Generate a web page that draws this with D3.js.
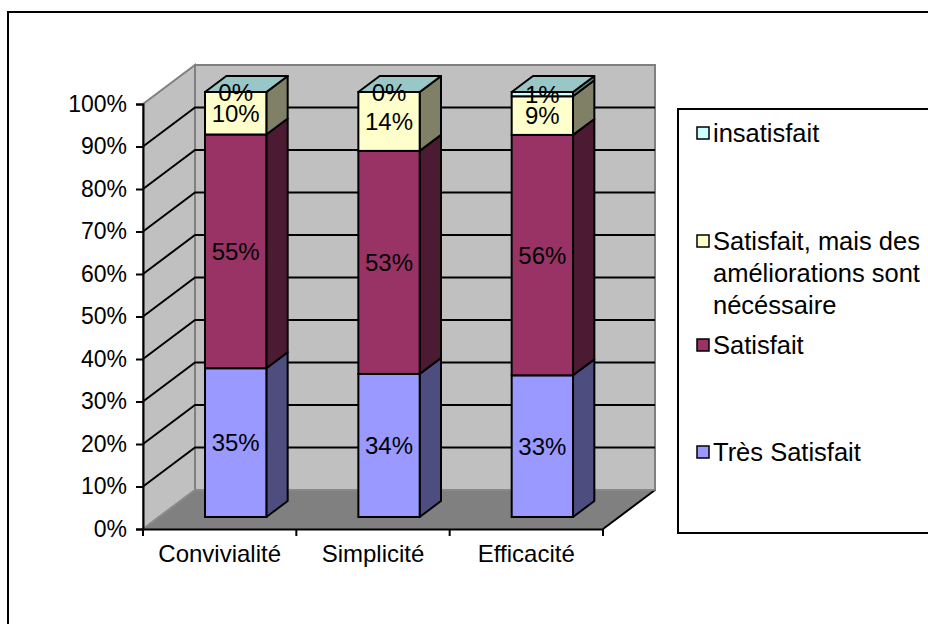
<!DOCTYPE html>
<html><head><meta charset="utf-8">
<script src="https://cdn.jsdelivr.net/npm/d3@7"></script>
<style>html,body{margin:0;padding:0;background:#fff;}svg{display:block;}</style>
</head><body>
<script>
const categories = ["Convivialité", "Simplicité", "Efficacité"];
const seriesNames = ["Très Satisfait", "Satisfait", "Satisfait, mais des améliorations sont nécéssaire", "insatisfait"];
const tresSatisfait = [35, 34, 33];
const satisfait = [55, 53, 56];
const ameliorations = [10, 14, 9];
const insatisfait = [0, 0, 1];
const yTicks = [0, 10, 20, 30, 40, 50, 60, 70, 80, 90, 100];
const legendLines = [["insatisfait"], ["Satisfait, mais des", "améliorations sont", "nécéssaire"], ["Satisfait"], ["Très Satisfait"]];

const frontColors = ["#9999FF", "#993366", "#FFFFCC", "#CCFFFF"];
const sideColors = ["#4D4D80", "#4D1A33", "#808066", "#668080"];
const topColors = ["#7A7ACC", "#7A2952", "#CCCCA3", "#99C7C7"];

const W = 928, H = 624;
const svg = d3.select("body").append("svg").attr("width", W).attr("height", H);
const FONT = "'Liberation Sans', Arial, sans-serif";

// outer border
svg.append("rect").attr("x", 8).attr("y", 12).attr("width", 960).attr("height", 640)
  .attr("fill", "#fff").attr("stroke", "#000").attr("stroke-width", 2);

const x0 = 143, x1 = 603;
const y = d3.scaleLinear().domain([0, 100]).range([529, 104]);
const x = d3.scaleBand().domain(categories).range([x0, x1]);
const DX = 52, DY = -39; // full depth offset
const t0 = 0.308, t1 = 0.718; // bar depth span

const line = d3.line();
// left wall
svg.append("path").attr("d", line([[x0, y(0)], [x0, y(100)], [x0 + DX, y(100) + DY], [x0 + DX, y(0) + DY]]) + "Z")
  .attr("fill", "#C0C0C0").attr("stroke", "#808080").attr("stroke-width", 2);
// back wall
svg.append("path").attr("d", line([[x0 + DX, y(100) + DY], [x1 + DX, y(100) + DY], [x1 + DX, y(0) + DY], [x0 + DX, y(0) + DY]]) + "Z")
  .attr("fill", "#C0C0C0").attr("stroke", "#808080").attr("stroke-width", 2);
// floor
svg.append("path").attr("d", line([[x0, y(0)], [x1, y(0)], [x1 + DX, y(0) + DY], [x0 + DX, y(0) + DY]]) + "Z")
  .attr("fill", "#808080").attr("stroke", "none");
svg.append("path").attr("d", line([[x1, y(0)], [x1 + DX, y(0) + DY]]))
  .attr("stroke", "#000").attr("stroke-width", 2);
svg.append("path").attr("d", line([[x0, y(0)], [x0 + DX, y(0) + DY], [x1 + DX, y(0) + DY]]))
  .attr("fill", "none").attr("stroke", "#8c8c8c").attr("stroke-width", 1.5);

// gridlines
yTicks.filter(v => v > 0 && v < 100).forEach(v => {
  svg.append("path").attr("d", line([[x0, y(v)], [x0 + DX, y(v) + DY], [x1 + DX, y(v) + DY]]))
    .attr("fill", "none").attr("stroke", "#000").attr("stroke-width", 2);
});

// axes
const yAxis = d3.axisLeft(y).tickValues(yTicks).tickFormat(d => d + "%").tickSizeOuter(0).tickSize(7).tickPadding(9);
const gy = svg.append("g").attr("transform", `translate(${x0},0)`).call(yAxis);
gy.selectAll("path,line").attr("stroke", "#000").attr("stroke-width", 2);
gy.selectAll("text").attr("font-family", FONT).attr("font-size", 23).attr("fill", "#000");

const xAxis = d3.axisBottom(x).tickSize(0).tickPadding(16).tickSizeOuter(0);
const gx = svg.append("g").attr("transform", `translate(0,${y(0)})`).call(xAxis);
gx.select("path").attr("stroke", "#000").attr("stroke-width", 2);
gx.selectAll("text").attr("font-family", FONT).attr("font-size", 24).attr("fill", "#000").attr("dy", "0.71em");
// category boundary ticks
const boundaries = [x0].concat(categories.map(c => x(c) + x.bandwidth()));
svg.selectAll(".ctick").data(boundaries).join("line")
  .attr("x1", d => d).attr("x2", d => d).attr("y1", y(0)).attr("y2", y(0) + 7)
  .attr("stroke", "#000").attr("stroke-width", 2);

// stacked data
const rows = categories.map((c, i) => ({ cat: c, s0: tresSatisfait[i], s1: satisfait[i], s2: ameliorations[i], s3: insatisfait[i] }));
const keys = ["s0", "s1", "s2", "s3"];
const stack = d3.stack().keys(keys).offset(d3.stackOffsetExpand);
const series = stack(rows);

const barW = x.bandwidth() * 0.4;
const fdx = DX * t0, fdy = DY * t0;
const bdx = DX * (t1 - t0), bdy = DY * (t1 - t0);
const yb = v => y(v * 100) + fdy;

categories.forEach((c, ci) => {
  const xl = x(c) + x.bandwidth() / 2 - barW / 2 + fdx;
  const xr = xl + barW;
  const g = svg.append("g");
  series.forEach((s, si) => {
    const d = s[ci];
    const yt = yb(d[1]), ybot = yb(d[0]);
    g.append("path").attr("d", line([[xr, ybot], [xr + bdx, ybot + bdy], [xr + bdx, yt + bdy], [xr, yt]]) + "Z")
      .attr("fill", sideColors[si]).attr("stroke", "#000").attr("stroke-width", 2).attr("stroke-linejoin", "round");
    g.append("rect").attr("x", xl).attr("y", yt).attr("width", barW).attr("height", Math.max(0, ybot - yt))
      .attr("fill", frontColors[si]).attr("stroke", "#000").attr("stroke-width", 2);
    if (si === series.length - 1) {
      g.append("path").attr("d", line([[xl, yt], [xr, yt], [xr + bdx, yt + bdy], [xl + bdx, yt + bdy]]) + "Z")
        .attr("fill", topColors[si]).attr("stroke", "#000").attr("stroke-width", 2).attr("stroke-linejoin", "round");
    }
  });
  series.forEach((s, si) => {
    const d = s[ci];
    const ym = (yb(d[0]) + yb(d[1])) / 2;
    const raw = [tresSatisfait, satisfait, ameliorations, insatisfait][si][ci];
    g.append("text").attr("x", (xl + xr) / 2).attr("y", ym).attr("dy", "0.36em")
      .attr("text-anchor", "middle").attr("font-family", FONT).attr("font-size", 24).attr("fill", "#000")
      .text(raw + "%");
  });
});

// legend
const lg = svg.append("g");
lg.append("rect").attr("x", 678).attr("y", 109).attr("width", 300).attr("height", 424)
  .attr("fill", "#fff").attr("stroke", "#000").attr("stroke-width", 2);
const legendOrder = [3, 2, 1, 0];
const legendBase = [142, 250, 354, 461];
legendOrder.forEach((si, i) => {
  lg.append("rect").attr("x", 697).attr("y", legendBase[i] - 15).attr("width", 12).attr("height", 12)
    .attr("fill", frontColors[si]).attr("stroke", "#000").attr("stroke-width", 1.5);
  legendLines[i].forEach((t, li) => {
    lg.append("text").attr("x", 713).attr("y", legendBase[i] + li * 32)
      .attr("font-family", FONT).attr("font-size", 25.5).attr("fill", "#000").text(t);
  });
});
</script>
</body></html>
